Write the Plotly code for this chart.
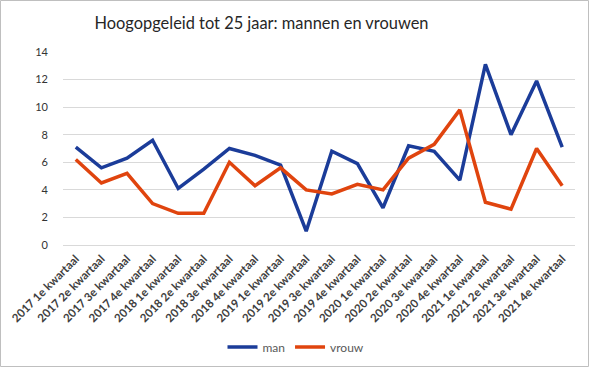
import plotly.graph_objects as go

categories = [
    "2017 1e kwartaal", "2017 2e kwartaal", "2017 3e kwartaal", "2017 4e kwartaal",
    "2018 1e kwartaal", "2018 2e kwartaal", "2018 3e kwartaal", "2018 4e kwartaal",
    "2019 1e kwartaal", "2019 2e kwartaal", "2019 3e kwartaal", "2019 4e kwartaal",
    "2020 1e kwartaal", "2020 2e kwartaal", "2020 3e kwartaal", "2020 4e kwartaal",
    "2021 1e kwartaal", "2021 2e kwartaal", "2021 3e kwartaal", "2021 4e kwartaal",
]
man = [7.1, 5.6, 6.3, 7.6, 4.1, 5.5, 7.0, 6.5, 5.8, 1.0, 6.8, 5.9, 2.7, 7.2, 6.8, 4.7, 13.1, 8.0, 11.9, 7.1]
vrouw = [6.2, 4.5, 5.2, 3.0, 2.3, 2.3, 6.0, 4.3, 5.6, 4.0, 3.7, 4.4, 4.0, 6.3, 7.3, 9.8, 3.1, 2.6, 7.0, 4.3]
y_ticks = [0, 2, 4, 6, 8, 10, 12, 14]

FONT = "Lato"
W, H = 590, 368
ML, MR, MT, MB = 63, 15, 52, 123
PW, PH = W - ML - MR, H - MT - MB

def px_x(x):
    return (x - ML) / PW

def px_y(y):
    return (H - MB - y) / PH

fig = go.Figure()
fig.add_trace(go.Scatter(x=categories, y=man, name="man", mode="lines",
                         line=dict(color="#1b3c99", width=3.5)))
fig.add_trace(go.Scatter(x=categories, y=vrouw, name="vrouw", mode="lines",
                         line=dict(color="#e0440e", width=3.5)))

fig.update_layout(
    width=W, height=H,
    margin=dict(l=ML, r=MR, t=MT, b=MB, autoexpand=False),
    paper_bgcolor="white", plot_bgcolor="white",
    font=dict(family=FONT, color="#595959", size=11),
    title=dict(text="Hoogopgeleid tot 25 jaar: mannen en vrouwen",
               x=px_x(261.5), xanchor="center", xref="paper", y=1 - 23 / H, yanchor="middle",
               font=dict(family=FONT, size=16.4, color="#262626")),
    showlegend=True,
    legend=dict(orientation="h", x=px_x(296), xanchor="center", y=px_y(347), yanchor="middle",
                font=dict(family=FONT, size=12, color="#595959"),
                itemwidth=30, tracegroupgap=0),
    xaxis=dict(type="category", range=[-0.5, len(categories) - 0.5], automargin=False,
               showgrid=False, showline=False, zeroline=False, ticks="",
               ticklabelstandoff=4,
               tickangle=-45, tickfont=dict(family=FONT, size=11.5, color="#404040", weight="bold")),
    yaxis=dict(range=[0, 14], tickvals=y_ticks, showgrid=True, gridcolor="#d9d9d9", gridwidth=1,
               zeroline=True, zerolinecolor="#d9d9d9", zerolinewidth=1, showline=False,
               ticks="", ticklabelstandoff=14, automargin=False,
               tickfont=dict(family=FONT, size=11, color="#333333")),
    shapes=[dict(type="rect", xref="paper", yref="paper",
                 x0=px_x(0.5), x1=px_x(W - 1.5), y0=px_y(H - 1.5), y1=px_y(0.5),
                 line=dict(color="#bfbfbf", width=1), layer="below")],
)

fig.write_html("out.html", config={"displayModeBar": False},
               post_script="document.body.style.margin='0';document.body.style.overflow='hidden';")
